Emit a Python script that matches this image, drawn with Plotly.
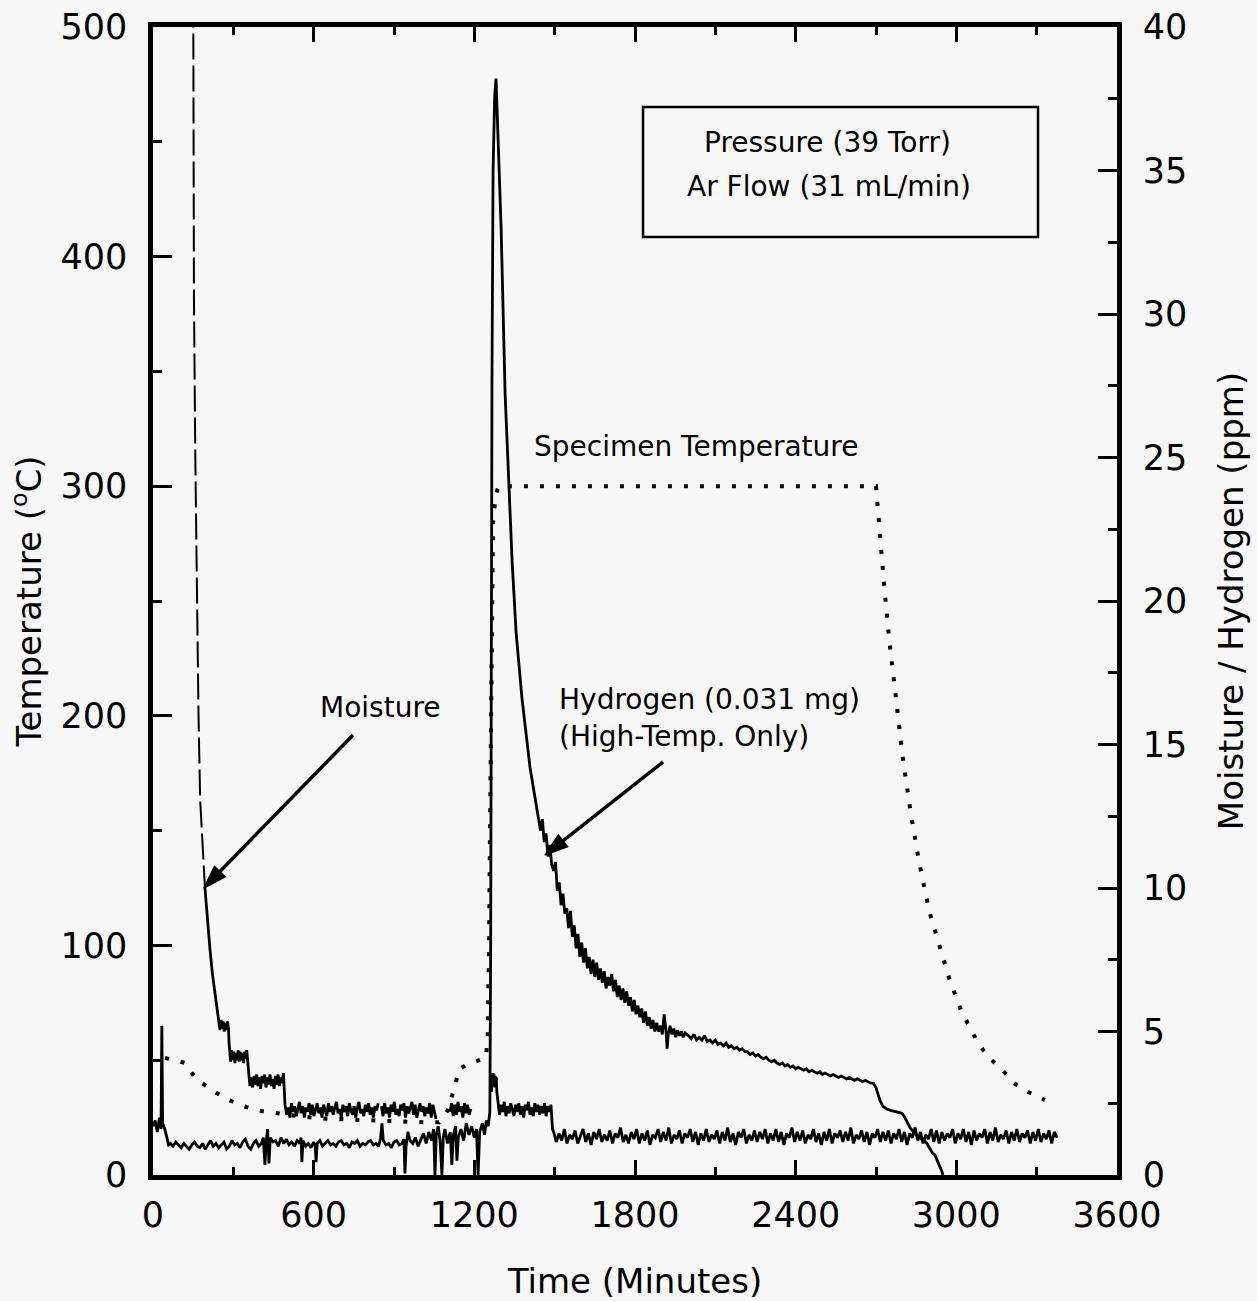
import plotly.graph_objects as go

# ---------------- data ----------------
# Specimen temperature (deg C, left axis)
temp_time = [45, 63, 90, 120, 160, 213, 276, 336, 396, 459, 550, 650, 750, 885, 948, 1008, 1068,
             1100, 1128, 1143, 1170, 1191, 1220, 1243, 1250, 1255, 1260, 1265, 1270, 1280, 1290,
             2700, 2715, 2730, 2750, 2775, 2800, 2830, 2860, 2900, 2955, 2973, 2995, 3017, 3047,
             3077, 3118, 3166, 3215, 3271, 3331]
temp_c = [51, 50.5, 50, 48.8, 42, 37.5, 33, 30, 28, 27, 25.5, 24.5, 24, 23.5, 23, 23, 23,
          28, 39, 46, 48, 49, 50, 51, 60, 100, 170, 240, 285, 296, 300,
          300, 277.7, 257.4, 232.6, 205.5, 181.8, 157.5, 136.9, 114.4, 92.8, 85.8, 78.8, 71.9, 65,
          58.4, 51.4, 46.6, 40, 36, 32.7]

# Hydrogen (ppm, right axis)
h2_time = [0, 8, 16, 24, 30, 33, 36, 44, 52, 58,
           65, 75, 85, 95, 105, 115, 125, 135, 145, 155,
           165, 175, 185, 195, 205, 215, 225, 235, 245, 255,
           265, 275, 285, 295, 305, 315, 325, 335, 345, 355,
           365, 375, 385, 395, 405, 412, 418, 423, 428, 433,
           438, 448, 458, 468, 478, 488, 498, 508, 518, 528,
           538, 548, 553, 556, 560, 570, 580, 590, 600, 606,
           609, 613, 623, 633, 643, 653, 663, 673, 683, 693,
           703, 713, 723, 733, 743, 753, 763, 773, 783, 793,
           803, 813, 823, 833, 843, 850, 855, 860, 870, 880,
           890, 900, 910, 920, 930, 937, 941, 945, 952, 960,
           970, 980, 990, 1000, 1010, 1020, 1030, 1040, 1048, 1053,
           1058, 1065, 1072, 1079, 1084, 1090, 1100, 1110, 1116, 1122,
           1130, 1135, 1140, 1150, 1160, 1170, 1180, 1190, 1200, 1208,
           1214, 1220, 1230, 1238, 1245, 1252, 1258, 1261, 1263, 1266,
           1270, 1276, 1281, 1290, 1300, 1315, 1329, 1341, 1356, 1378,
           1408, 1427,
           1440, 1447, 1454, 1461, 1468, 1475, 1482, 1489, 1496, 1503,
           1510, 1517, 1524, 1531, 1538, 1545, 1552, 1559, 1566, 1573,
           1580, 1587, 1594, 1601, 1608, 1615, 1622, 1629, 1636, 1643,
           1650, 1657, 1664, 1671, 1678, 1685, 1692, 1699, 1706, 1713,
           1720, 1727, 1734, 1741, 1748, 1755, 1762, 1769, 1776, 1783,
           1790, 1797, 1804, 1811, 1818, 1825, 1832, 1839, 1846, 1853,
           1860, 1867, 1874, 1881, 1888, 1895, 1902, 1909, 1916, 1920,
           1924, 1931, 1938, 1945, 1952, 1959, 1966, 1973, 1980, 1987,
           2000, 2010, 2020, 2030, 2040, 2050, 2060, 2070, 2080, 2090,
           2100, 2110, 2120, 2130, 2140, 2150, 2160, 2170, 2180, 2190,
           2200, 2210, 2220, 2230, 2240, 2250, 2260, 2270, 2280, 2290,
           2300, 2310, 2320, 2330, 2340, 2350, 2360, 2370, 2380, 2390,
           2400, 2410, 2420, 2430, 2440, 2450, 2460, 2470, 2480, 2490,
           2500, 2510, 2520, 2530, 2540, 2550, 2560, 2570, 2580, 2590,
           2600, 2610, 2620, 2630, 2640, 2650, 2660, 2670, 2680, 2690,
           2700, 2708, 2715, 2725, 2740, 2755, 2770, 2785, 2797, 2805,
           2815, 2827, 2840, 2855, 2870, 2880, 2890, 2900, 2912, 2920,
           2928, 2938, 2945, 2950]
h2_ppm = [1.7, 1.9, 1.5, 2.0, 1.6, 5.2, 1.8, 1.6, 1.3, 1.05,
          1.1, 1.0, 1.15, 1.05, 0.95, 1.1, 1.0, 0.9, 1.05, 1.15,
          1.0, 0.95, 1.1, 0.9, 1.05, 1.2, 1.0, 1.1, 0.95, 1.05,
          1.15, 0.9, 1.0, 1.2, 1.05, 1.1, 0.95, 1.15, 1.25, 1.0,
          0.9, 1.1, 1.2, 1.0, 1.1, 1.3, 0.35, 1.2, 1.6, 0.4,
          1.3, 1.15, 1.2, 1.0, 1.3, 1.1, 1.25, 1.05, 1.15, 1.0,
          1.2, 1.1, 1.3, 0.45, 1.2, 1.0, 1.1, 0.95, 1.15, 1.0,
          0.45, 1.1, 1.2, 1.0, 1.1, 1.2, 1.05, 1.1, 1.0, 1.15,
          1.2, 1.05, 1.1, 0.95, 1.15, 1.1, 1.2, 1.0, 1.1, 1.05,
          1.15, 1.2, 1.05, 1.1, 1.0, 1.3, 1.8, 1.2, 1.05, 1.1,
          0.95, 1.15, 1.2, 1.05, 1.1, 1.25, 0.05, 1.0, 1.5, 1.2,
          1.1, 1.3, 1.0, 1.2, 1.45, 1.1, 1.5, 1.2, 1.6, 0.0,
          1.4, 1.7, 1.2, 0.0, 1.3, 1.6, 1.1, 1.5, 0.35, 1.4,
          1.7, 0.5, 1.3, 1.6, 1.2, 1.8, 1.4, 1.7, 1.3, 1.6,
          0.0, 1.5, 1.8, 1.4, 1.9, 1.7, 2.2, 8.0, 20.0, 28.0,
          35.0, 37.6, 38.2, 35.5, 33.0, 27.2, 24.0, 21.4, 18.9, 16.6,
          14.2, 13.1,
          12.5, 12.0, 12.4, 11.6, 11.9, 11.1, 11.5, 10.8, 10.6, 10.9,
          9.9, 10.2, 9.4, 9.8, 9.1, 9.3, 8.6, 9.2, 8.3, 8.7,
          7.9, 8.4, 7.6, 8.1, 7.4, 7.9, 7.2, 7.6, 7.0, 7.5,
          6.9, 7.4, 6.8, 7.2, 6.7, 7.1, 6.5, 6.9, 6.6, 7.0,
          6.4, 6.8, 6.2, 6.6, 6.1, 6.5, 6.0, 6.4, 5.9, 6.2,
          5.7, 6.1, 5.6, 5.9, 5.5, 5.8, 5.3, 5.7, 5.2, 5.5,
          5.1, 5.4, 5.0, 5.3, 5.0, 5.2, 4.9, 5.6, 5.0, 4.4,
          4.9, 5.2, 4.9, 5.1, 4.8, 5.05, 4.85, 5.0, 4.8, 4.95,
          4.85, 4.75, 4.9, 4.7, 4.8, 4.7, 4.85, 4.65, 4.7, 4.6,
          4.7, 4.55, 4.6, 4.5, 4.6, 4.45, 4.5, 4.4, 4.45, 4.35,
          4.4, 4.3, 4.3, 4.2, 4.25, 4.15, 4.2, 4.1, 4.05, 4.1,
          4.0, 3.95, 4.0, 3.9, 3.85, 3.9, 3.8, 3.85, 3.75, 3.8,
          3.7, 3.75, 3.7, 3.65, 3.7, 3.6, 3.65, 3.6, 3.55, 3.6,
          3.5, 3.55, 3.5, 3.45, 3.5, 3.45, 3.4, 3.45, 3.4, 3.35,
          3.4, 3.35, 3.3, 3.35, 3.3, 3.25, 3.3, 3.25, 3.2, 3.2,
          3.05, 2.8, 2.6, 2.4, 2.3, 2.25, 2.22, 2.2, 2.15, 2.05,
          1.85, 1.65, 1.5, 1.35, 1.25, 1.2, 1.1, 0.95, 0.75, 0.7,
          0.5, 0.3, 0.15, 0.0]

# Moisture (ppm, right axis): dashed start, then noisy segments
moist_dash_time = [150, 153, 158, 164, 170, 176, 185, 194]
moist_dash_ppm = [42, 30.5, 25, 20, 16, 13.1, 11.3, 10.0]

moist_b_time = [194, 203, 213, 222, 232, 238, 243, 246, 250, 254, 258, 262, 266, 270, 274, 278, 282, 284,
                286, 290, 294, 298, 302, 306, 310, 314, 318, 322, 326, 330, 334, 338, 342, 346, 350, 354,
                357, 362, 367, 372, 377, 382, 387, 392, 397, 402, 407, 412, 417, 422, 427, 432, 437, 442,
                447, 452, 457, 462, 467, 472, 477, 482, 487, 490]
moist_b_ppm = [10.0, 8.9, 7.84, 7.0, 6.3, 5.7, 5.5, 5.3, 5.05, 5.4, 5.1, 5.35, 5.0, 5.3, 5.05, 5.35, 5.1, 4.6,
               4.3, 3.95, 4.35, 4.0, 4.3, 3.9, 4.25, 4.0, 4.35, 3.95, 4.3, 4.0, 4.25, 3.9, 4.3, 4.05, 4.35, 4.0,
               3.55, 3.1, 3.4, 3.05, 3.45, 3.15, 3.5, 3.1, 3.4, 3.0, 3.45, 3.2, 3.5, 3.05, 3.4, 3.15, 3.5, 3.1,
               3.35, 3.0, 3.45, 3.15, 3.5, 3.1, 3.4, 3.2, 3.55, 2.9]

moist_c_start, moist_c_step = 493, 6
moist_c_ppm = [2.45, 2.1, 2.35, 2.0, 2.5, 2.2, 2.4, 2.05, 2.3, 2.55,
               2.15, 2.4, 2.0, 2.35, 2.2, 2.5, 2.1, 2.45, 2.05, 2.3,
               2.5, 2.15, 2.35, 2.0, 2.45, 2.25, 2.05, 2.5, 2.2, 2.4,
               2.1, 2.35, 2.55, 2.15, 2.3, 2.0, 2.45, 2.2, 2.4, 2.05,
               2.5, 2.25, 2.1, 2.4, 2.0, 2.35, 2.55, 2.15, 2.3, 2.05,
               2.45, 2.2, 2.5, 2.1, 2.35, 2.0, 2.4, 2.25, 2.5]

moist_d_start, moist_d_step = 853, 6
moist_d_ppm = [2.4, 2.05, 2.5, 2.15, 2.35, 2.0, 2.45, 2.2, 2.55, 2.1,
               2.3, 2.05, 2.45, 2.25, 2.5, 2.0, 2.4, 2.15, 2.35, 2.55,
               2.1, 2.45, 2.0, 2.3, 2.5, 2.2, 2.4, 2.05, 2.35, 2.15,
               2.5, 2.0, 2.45, 2.2, 1.95]

moist_e_start, moist_e_step = 1109, 6
moist_e_ppm = [2.2, 2.5, 2.05, 2.45, 2.1, 2.55, 2.2, 2.4, 2.0, 2.5, 2.15, 2.45, 2.1, 2.3]

moist_f_time = [1264, 1266, 1268, 1270, 1272, 1274, 1276, 1278, 1280, 1282, 1284]
moist_f_ppm = [2.9, 3.5, 3.1, 3.55, 3.2, 3.5, 3.05, 3.45, 3.2, 3.4, 2.9]

moist_g_start, moist_g_step = 1288, 6
moist_g_ppm = [2.5, 2.1, 2.45, 2.2, 2.55, 2.05, 2.4, 2.15, 2.5, 2.3,
               2.05, 2.45, 2.2, 2.5, 2.1, 2.4, 2.0, 2.45, 2.25, 2.55,
               2.1, 2.35, 2.05, 2.5, 2.2, 2.45, 2.1, 2.4, 2.15, 2.5,
               2.05, 2.4, 2.2, 2.45, 1.6]

moist_h_start, moist_h_step = 1496, 10
moist_h_ppm = [1.5, 1.15, 1.45, 1.2, 1.6, 1.1, 1.4, 1.25, 1.55, 1.1,
               1.35, 1.6, 1.15, 1.45, 1.05, 1.5, 1.25, 1.6, 1.15, 1.4,
               1.2, 1.55, 1.1, 1.45, 1.3, 1.65, 1.15, 1.4, 1.1, 1.5,
               1.25, 1.6, 1.1, 1.45, 1.2, 1.55, 1.05, 1.4, 1.3, 1.6,
               1.15, 1.5, 1.2, 1.65, 1.1, 1.4, 1.25, 1.55, 1.1, 1.45,
               1.3, 1.6, 1.15, 1.5, 1.05, 1.45, 1.2, 1.6, 1.15, 1.4,
               1.25, 1.55, 1.1, 1.5, 1.2, 1.65, 1.15, 1.45, 1.05, 1.5,
               1.3, 1.6, 1.1, 1.4, 1.2, 1.55, 1.15, 1.5, 1.25, 1.6,
               1.1, 1.45, 1.2, 1.6, 1.15, 1.5, 1.05, 1.45, 1.3, 1.65,
               1.15, 1.5, 1.2, 1.55, 1.1, 1.4, 1.25, 1.6, 1.15, 1.45,
               1.05, 1.5, 1.2, 1.6, 1.1, 1.45, 1.3, 1.55, 1.15, 1.5,
               1.2, 1.65, 1.1, 1.4, 1.25, 1.55, 1.15, 1.5, 1.05, 1.45,
               1.3, 1.6, 1.15, 1.5, 1.2, 1.55, 1.1, 1.45, 1.25, 1.6,
               1.15, 1.5, 1.05, 1.45, 1.3, 1.65, 1.2, 1.5, 1.1, 1.4,
               1.25, 1.6, 1.15, 1.55, 1.1, 1.5, 1.2, 1.45, 1.3, 1.6,
               1.1, 1.45, 1.25, 1.6, 1.15, 1.5, 1.05, 1.55, 1.2, 1.45,
               1.3, 1.6, 1.1, 1.5, 1.2, 1.65, 1.15, 1.4, 1.25, 1.55,
               1.1, 1.5, 1.2, 1.6, 1.15, 1.45, 1.3, 1.55, 1.1, 1.5,
               1.2, 1.6, 1.15, 1.45, 1.25, 1.55, 1.1, 1.5, 1.3]

x_ticks = [0, 600, 1200, 1800, 2400, 3000, 3600]
y_ticks = [0, 100, 200, 300, 400, 500]
y2_ticks = [0, 5, 10, 15, 20, 25, 30, 35, 40]

# label anchors (data units: minutes, deg C)
arrow_moisture = dict(head=(190, 125), tail=(747, 191.6))
arrow_hydrogen = dict(head=(1464, 139.4), tail=(1905, 179.9))

# ---------------- assemble moisture solid series ----------------
def grid(start, step, vals):
    return [start + step * i for i in range(len(vals))]

m_time, m_ppm = [], []
segments = [
    (moist_b_time + grid(moist_c_start, moist_c_step, moist_c_ppm), moist_b_ppm + moist_c_ppm),
    (grid(moist_d_start, moist_d_step, moist_d_ppm), moist_d_ppm),
    (grid(moist_e_start, moist_e_step, moist_e_ppm), moist_e_ppm),
    (moist_f_time + grid(moist_g_start, moist_g_step, moist_g_ppm) + grid(moist_h_start, moist_h_step, moist_h_ppm),
     moist_f_ppm + moist_g_ppm + moist_h_ppm),
]
for ts, vs in segments:
    if m_time:
        m_time.append(None)
        m_ppm.append(None)
    m_time += list(ts)
    m_ppm += list(vs)

FONT = "DejaVu Sans"
BG = "#f7f7f7"

fig = go.Figure()

fig.add_trace(go.Scatter(x=temp_time, y=temp_c, mode="lines", yaxis="y",
                         line=dict(color="black", width=4, dash="4px,12px"),
                         showlegend=False, name="Specimen Temperature"))
fig.add_trace(go.Scatter(x=moist_dash_time, y=moist_dash_ppm, mode="lines", yaxis="y2",
                         line=dict(color="black", width=2, dash="26px,6px"),
                         showlegend=False, name="Moisture"))
fig.add_trace(go.Scatter(x=m_time, y=m_ppm, mode="lines", yaxis="y2", connectgaps=False,
                         line=dict(color="black", width=2.8),
                         showlegend=False, name="Moisture"))
fig.add_trace(go.Scatter(x=h2_time, y=h2_ppm, mode="lines", yaxis="y2",
                         line=dict(color="black", width=2.8),
                         showlegend=False, name="Hydrogen"))

# arrows drawn as line + arrowhead marker
for arr in (arrow_moisture, arrow_hydrogen):
    fig.add_trace(go.Scatter(x=[arr["tail"][0], arr["head"][0]], y=[arr["tail"][1], arr["head"][1]],
                             mode="lines+markers", yaxis="y", showlegend=False, hoverinfo="skip",
                             line=dict(color="black", width=3.5),
                             marker=dict(symbol=["circle", "arrow"], size=[0.1, 24], color="black",
                                         opacity=1, angleref="previous",
                                         line=dict(width=1.5, color="black"))))

axis_font = dict(family=FONT, size=35, color="black")
title_font = dict(family=FONT, size=34, color="black")

fig.update_layout(
    width=1257, height=1301,
    margin=dict(l=153, r=140, t=27, b=126),
    paper_bgcolor=BG, plot_bgcolor=BG,
    font=dict(family=FONT, color="black"),
    xaxis=dict(range=[0, 3600], tickvals=x_ticks, ticks="inside", ticklen=15, tickwidth=3,
               tickcolor="black", showline=True, linewidth=4.5, linecolor="black", mirror="ticks",
               showgrid=False, zeroline=False, tickfont=axis_font, ticklabelstandoff=5,
               automargin=False,
               minor=dict(dtick=300, ticks="inside", ticklen=8, tickwidth=3, tickcolor="black", showgrid=False),
               title=dict(text="Time (Minutes)", font=title_font, standoff=38)),
    yaxis=dict(range=[0, 500], tickvals=y_ticks, ticks="inside", ticklen=19, tickwidth=3,
               tickcolor="black", showline=True, linewidth=4.5, linecolor="black", mirror=False,
               showgrid=False, zeroline=False, tickfont=axis_font, ticklabelstandoff=14,
               automargin=False,
               minor=dict(dtick=50, ticks="inside", ticklen=9, tickwidth=3, tickcolor="black", showgrid=False),
               title=dict(text="Temperature (<sup>o</sup>C)", font=title_font, standoff=10)),
    yaxis2=dict(range=[0, 40], tickvals=y2_ticks, ticks="inside", ticklen=19, tickwidth=3,
                tickcolor="black", showline=True, linewidth=4.5, linecolor="black",
                overlaying="y", side="right", anchor="x", automargin=False,
                showgrid=False, zeroline=False, tickfont=axis_font, ticklabelstandoff=14,
                minor=dict(dtick=2.5, ticks="inside", ticklen=9, tickwidth=3, tickcolor="black", showgrid=False),
                title=dict(text="Moisture / Hydrogen (ppm)", font=title_font, standoff=34)),
)

ann_font = dict(family=FONT, size=28, color="black")

fig.add_shape(type="rect", xref="x", yref="y", x0=1830, x1=3305, y0=408.5, y1=465.2,
              line=dict(color="black", width=2.5), fillcolor="rgba(0,0,0,0)")

annotations = [
    dict(x=2517, y=449.5, text="Pressure (39 Torr)"),
    dict(x=2524, y=430.5, text="Ar Flow (31 mL/min)"),
    dict(x=2028, y=317.1, text="Specimen Temperature"),
    dict(x=848, y=203.8, text="Moisture"),
]
for a in annotations:
    fig.add_annotation(x=a["x"], y=a["y"], text=a["text"], xref="x", yref="y",
                       showarrow=False, font=ann_font, xanchor="center", yanchor="middle")
fig.add_annotation(x=1509, y=207.3, text="Hydrogen (0.031 mg)", xref="x", yref="y",
                   showarrow=False, font=ann_font, xanchor="left", yanchor="middle")
fig.add_annotation(x=1509, y=190.8, text="(High-Temp. Only)", xref="x", yref="y",
                   showarrow=False, font=ann_font, xanchor="left", yanchor="middle")

fig.write_html("out.html")
